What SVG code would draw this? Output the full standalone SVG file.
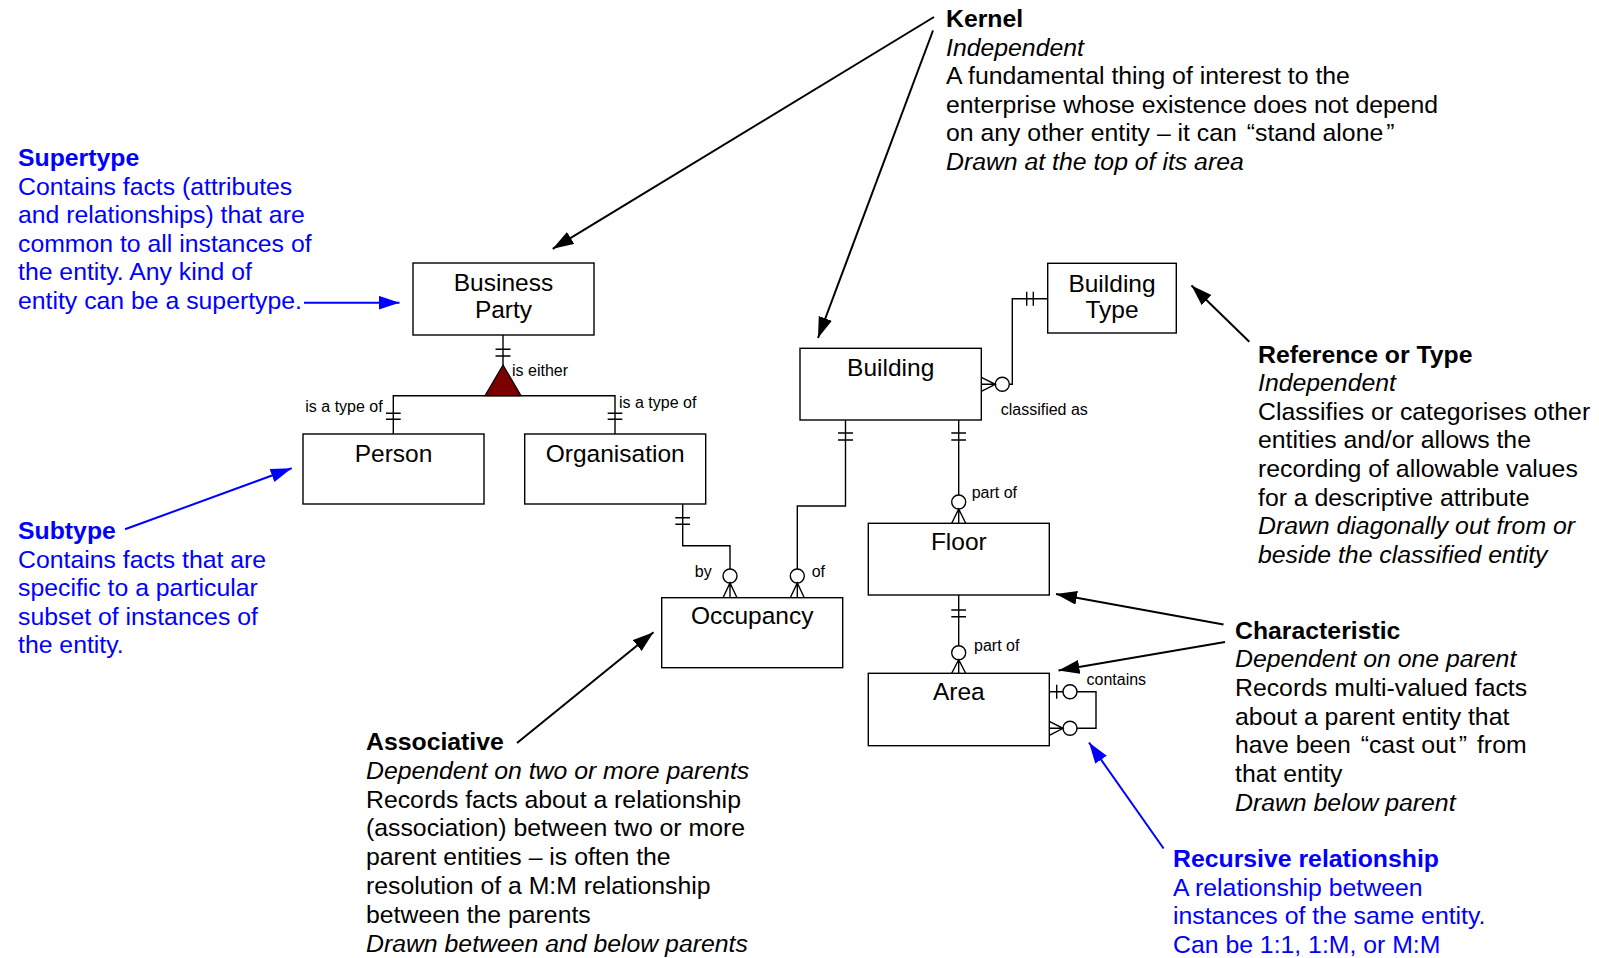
<svg xmlns="http://www.w3.org/2000/svg" width="1599" height="958" viewBox="0 0 1599 958">
<defs>
<style>
.box{fill:#fff;stroke:#000;stroke-width:1.4}
.ln{fill:none;stroke:#000;stroke-width:1.4}
.ci{fill:#fff;stroke:#000;stroke-width:1.4}
.ar{fill:none;stroke:#000;stroke-width:2}
.arb{fill:none;stroke:#0000ff;stroke-width:2}
.en{font-family:"Liberation Sans",Arial,sans-serif;font-size:24.5px;fill:#000;text-anchor:middle}
.lb{font-family:"Liberation Sans",Arial,sans-serif;font-size:16px;fill:#000}
.tx{font-family:"Liberation Sans",Arial,sans-serif;font-size:24.8px;fill:#000}
.blue{fill:#0000ff}
.b{font-weight:bold}
.i{font-style:italic}
</style>
<marker id="ah" markerUnits="userSpaceOnUse" markerWidth="22" markerHeight="16" refX="21" refY="7" orient="auto">
<path d="M0,0 L21,7 L0,14 z" fill="#000"/>
</marker>
<marker id="ahb" markerUnits="userSpaceOnUse" markerWidth="22" markerHeight="16" refX="21" refY="7" orient="auto">
<path d="M0,0 L21,7 L0,14 z" fill="#0000ff"/>
</marker>
</defs>
<rect width="1599" height="958" fill="#fff"/>

<g id="connectors">
<!-- Business Party subtype -->
<path class="ln" d="M503,335 V365"/>
<path class="ln" d="M495.5,349.3 H510.5 M495.5,356 H510.5"/>
<path class="ln" d="M393.3,434 V395.7 H615 V434"/>
<path class="ln" d="M386,413.3 H400.7 M386,419.3 H400.7"/>
<path class="ln" d="M607.7,413.3 H622.3 M607.7,419.3 H622.3"/>
<polygon points="503,365 485,395.7 521,395.7" fill="#7b0000" stroke="#000" stroke-width="1.2"/>
<!-- Organisation - Occupancy -->
<path class="ln" d="M682.7,503.3 V545.7 H730 V569"/>
<path class="ln" d="M675.3,517.7 H690 M675.3,524.3 H690"/>
<circle class="ci" cx="730" cy="576" r="7"/>
<path class="ln" d="M723,597.7 L730,583 L737,597.7 M730,583 V597.7"/>
<!-- Building - Occupancy -->
<path class="ln" d="M845.5,420 V506 H797.3 V569"/>
<path class="ln" d="M838,433 H853 M838,440 H853"/>
<circle class="ci" cx="797.3" cy="576" r="7"/>
<path class="ln" d="M790.3,597.7 L797.3,583 L804.3,597.7 M797.3,583 V597.7"/>
<!-- Building - Floor -->
<path class="ln" d="M958.7,420 V495"/>
<path class="ln" d="M951.3,433 H966 M951.3,440 H966"/>
<circle class="ci" cx="958.7" cy="502" r="7"/>
<path class="ln" d="M951.7,523.3 L958.7,509 L965.7,523.3 M958.7,509 V523.3"/>
<!-- Floor - Area -->
<path class="ln" d="M958.7,595 V645.7"/>
<path class="ln" d="M951.3,610 H966 M951.3,616.7 H966"/>
<circle class="ci" cx="958.7" cy="652.7" r="7"/>
<path class="ln" d="M951.7,673.3 L958.7,659.7 L965.7,673.3 M958.7,659.7 V673.3"/>
<!-- Building Type - Building -->
<path class="ln" d="M1047.7,298.7 H1012.3 V384.3 H1009.3"/>
<path class="ln" d="M1026.7,291.7 V305.7 M1033.3,291.7 V305.7"/>
<circle class="ci" cx="1002.3" cy="384.3" r="7"/>
<path class="ln" d="M981.3,377.3 L995.3,384.3 L981.3,391.3 M995.3,384.3 H981.3"/>
<!-- Area recursive -->
<path class="ln" d="M1049.3,691.7 H1063 M1077,691.7 H1096 V728.3 H1077"/>
<path class="ln" d="M1056.7,684.7 V698.7"/>
<circle class="ci" cx="1070" cy="691.7" r="7"/>
<circle class="ci" cx="1070" cy="728.3" r="7"/>
<path class="ln" d="M1049.3,721.3 L1063,728.3 L1049.3,735.3 M1063,728.3 H1049.3"/>

<!-- annotation arrows -->
<line class="ar" x1="934" y1="17" x2="552.7" y2="248.8" marker-end="url(#ah)"/>
<line class="ar" x1="933" y1="30.5" x2="818" y2="338" marker-end="url(#ah)"/>
<line class="ar" x1="1249.3" y1="341.7" x2="1191.5" y2="285.5" marker-end="url(#ah)"/>
<line class="ar" x1="1223.5" y1="624.5" x2="1056" y2="594" marker-end="url(#ah)"/>
<line class="ar" x1="1225" y1="642" x2="1058.5" y2="670.5" marker-end="url(#ah)"/>
<line class="ar" x1="517" y1="743" x2="653.5" y2="632.3" marker-end="url(#ah)"/>
<line class="arb" x1="1163.6" y1="848.5" x2="1089" y2="742.5" marker-end="url(#ahb)"/>
<line class="arb" x1="304" y1="302.7" x2="399.5" y2="302.7" marker-end="url(#ahb)"/>
<line class="arb" x1="125" y1="529.3" x2="291.7" y2="468.3" marker-end="url(#ahb)"/>
</g>

<g id="labels">
<text class="lb" x="512" y="376">is either</text>
<text class="lb" x="382.7" y="412" text-anchor="end">is a type of</text>
<text class="lb" x="619" y="408">is a type of</text>
<text class="lb" x="711.7" y="577" text-anchor="end">by</text>
<text class="lb" x="811.7" y="577">of</text>
<text class="lb" x="1000.7" y="415">classified as</text>
<text class="lb" x="971.7" y="498">part of</text>
<text class="lb" x="974" y="651">part of</text>
<text class="lb" x="1086.5" y="685">contains</text>
</g>

<g id="business-party"><rect class="box" x="413" y="263" width="181" height="72"/><text class="en" x="503.5" y="291">Business</text><text class="en" x="503.5" y="318">Party</text></g>
<g id="person"><rect class="box" x="303" y="434" width="181" height="70"/><text class="en" x="393.5" y="461.5">Person</text></g>
<g id="organisation"><rect class="box" x="524.7" y="434" width="181" height="70"/><text class="en" x="615.2" y="461.5">Organisation</text></g>
<g id="building"><rect class="box" x="800" y="348.3" width="181.3" height="71.7"/><text class="en" x="890.7" y="376">Building</text></g>
<g id="building-type"><rect class="box" x="1047.7" y="263.3" width="128.6" height="69.7"/><text class="en" x="1112" y="291.7">Building</text><text class="en" x="1112" y="318.3">Type</text></g>
<g id="occupancy"><rect class="box" x="661.7" y="597.7" width="181" height="70"/><text class="en" x="752.2" y="624">Occupancy</text></g>
<g id="floor"><rect class="box" x="868.3" y="523.3" width="181" height="71.7"/><text class="en" x="958.8" y="550">Floor</text></g>
<g id="area"><rect class="box" x="868.3" y="673.3" width="181" height="72.4"/><text class="en" x="958.8" y="700">Area</text></g>

<g id="note-kernel">
<text class="tx"><tspan x="946" y="27" class="b">Kernel</tspan><tspan x="946" y="55.6" class="i">Independent</tspan><tspan x="946" y="84.2">A fundamental thing of interest to the</tspan><tspan x="946" y="112.8">enterprise whose existence does not depend</tspan><tspan x="946" y="141.4">on any other entity – it can <tspan dx="3">“stand alone</tspan><tspan dx="3">”</tspan></tspan><tspan x="946" y="170" class="i">Drawn at the top of its area</tspan></text>
</g>
<g id="note-supertype">
<text class="tx blue"><tspan x="18" y="166" class="b">Supertype</tspan><tspan x="18" y="194.5">Contains facts (attributes</tspan><tspan x="18" y="223">and relationships) that are</tspan><tspan x="18" y="251.5">common to all instances of</tspan><tspan x="18" y="280">the entity. Any kind of</tspan><tspan x="18" y="308.5">entity can be a supertype.</tspan></text>
</g>
<g id="note-subtype">
<text class="tx blue"><tspan x="18" y="539" class="b">Subtype</tspan><tspan x="18" y="567.5">Contains facts that are</tspan><tspan x="18" y="596">specific to a particular</tspan><tspan x="18" y="624.5">subset of instances of</tspan><tspan x="18" y="653">the entity.</tspan></text>
</g>
<g id="note-reference">
<text class="tx"><tspan x="1258" y="362.5" class="b">Reference or Type</tspan><tspan x="1258" y="391.1" class="i">Independent</tspan><tspan x="1258" y="419.7">Classifies or categorises other</tspan><tspan x="1258" y="448.3">entities and/or allows the</tspan><tspan x="1258" y="476.9">recording of allowable values</tspan><tspan x="1258" y="505.5">for a descriptive attribute</tspan><tspan x="1258" y="534.1" class="i">Drawn diagonally out from or</tspan><tspan x="1258" y="562.7" class="i">beside the classified entity</tspan></text>
</g>
<g id="note-characteristic">
<text class="tx"><tspan x="1235" y="638.5" class="b">Characteristic</tspan><tspan x="1235" y="667.2" class="i">Dependent on one parent</tspan><tspan x="1235" y="695.9">Records multi-valued facts</tspan><tspan x="1235" y="724.6">about a parent entity that</tspan><tspan x="1235" y="753.3">have been <tspan dx="3">“cast out</tspan><tspan dx="3">”</tspan><tspan dx="3"> from</tspan></tspan><tspan x="1235" y="782">that entity</tspan><tspan x="1235" y="810.7" class="i">Drawn below parent</tspan></text>
</g>
<g id="note-recursive">
<text class="tx blue"><tspan x="1173" y="867" class="b">Recursive relationship</tspan><tspan x="1173" y="895.7">A relationship between</tspan><tspan x="1173" y="924.4">instances of the same entity.</tspan><tspan x="1173" y="953">Can be 1:1, 1:M, or M:M</tspan></text>
</g>
<g id="note-associative">
<text class="tx"><tspan x="366" y="750" class="b">Associative</tspan><tspan x="366" y="778.8" class="i">Dependent on two or more parents</tspan><tspan x="366" y="807.6">Records facts about a relationship</tspan><tspan x="366" y="836.4">(association) between two or more</tspan><tspan x="366" y="865.2">parent entities – is often the</tspan><tspan x="366" y="894">resolution of a M:M relationship</tspan><tspan x="366" y="922.8">between the parents</tspan><tspan x="366" y="951.6" class="i">Drawn between and below parents</tspan></text>
</g>
</svg>
